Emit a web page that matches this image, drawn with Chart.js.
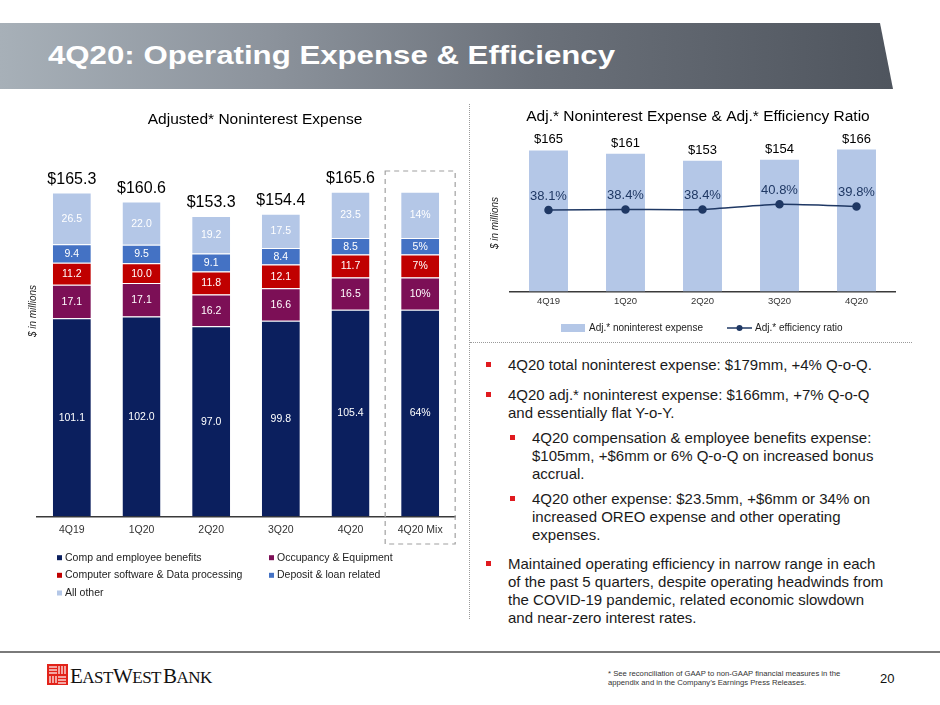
<!DOCTYPE html>
<html>
<head>
<meta charset="utf-8">
<script src="https://cdn.jsdelivr.net/npm/chart.js@4.4.1/dist/chart.umd.min.js"></script>
<style>
body { margin: 0; background: #fff; }
#slide { position: relative; width: 940px; height: 705px; overflow: hidden; font-family: "Liberation Sans", Arial, sans-serif; color: #1a1a1a; }
#titlebar { position: absolute; left: 0; top: 23px; width: 893px; height: 66px;
  background: linear-gradient(to right, #a7b0b8 0%, #8c939c 30%, #6b717a 60%, #4f555e 100%);
  clip-path: polygon(0 0, 880px 0, 893px 66px, 0 66px); }
#title { position: absolute; left: 48px; top: 42px; font-size: 26px; line-height: 26px; font-weight: bold; color: #fff;
  white-space: nowrap; transform: scaleX(1.2); transform-origin: 0 0; }
.cv { position: absolute; }
#sepV { position: absolute; left: 469px; top: 104px; height: 515px; border-left: 1.5px dotted #9a9a9a; }
#sepH { position: absolute; left: 470px; top: 342px; width: 442px; border-top: 1.5px dotted #9a9a9a; }
.bl { position: absolute; font-size: 15px; line-height: 18px; white-space: nowrap; }
.bl i { position: absolute; left: -22px; top: 6px; width: 4.5px; height: 4.5px; background: #e01a1f; }
#rule { position: absolute; left: 0; top: 651px; width: 940px; height: 2px; background: #7a7a7a; }
#logo { position: absolute; left: 47px; top: 664px; }
#bank { position: absolute; left: 70px; top: 666px; font-family: "Liberation Serif", "Times New Roman", serif; font-size: 21px; line-height: 21px; color: #111; white-space: nowrap; letter-spacing: -0.5px; }
#bank span { font-size: 17px; }
#bank b { font-weight: normal; margin-left: 2px; }
#note { position: absolute; left: 608px; top: 669px; font-size: 7.7px; line-height: 9px; color: #333; white-space: nowrap; }
#page { position: absolute; left: 880px; top: 672px; font-size: 13px; line-height: 14px; color: #111; }
</style>
</head>
<body>
<div id="slide">
  <div id="titlebar"></div>
  <div id="title">4Q20: Operating Expense &amp; Efficiency</div>

  <canvas id="leftChart" class="cv" width="470" height="520" style="left:0;top:95px"></canvas>
  <canvas id="rightChart" class="cv" width="460" height="250" style="left:470px;top:95px"></canvas>

  <div id="sepV"></div>
  <div id="sepH"></div>

  <div class="bl" style="left:508px;top:356px"><i></i>4Q20 total noninterest expense: $179mm, +4% Q-o-Q.</div>
  <div class="bl" style="left:508px;top:386px"><i></i>4Q20 adj.* noninterest expense: $166mm, +7% Q-o-Q<br>and essentially flat Y-o-Y.</div>
  <div class="bl" style="left:532px;top:429px"><i></i>4Q20 compensation &amp; employee benefits expense:<br>$105mm, +$6mm or 6% Q-o-Q on increased bonus<br>accrual.</div>
  <div class="bl" style="left:532px;top:490px"><i></i>4Q20 other expense: $23.5mm, +$6mm or 34% on<br>increased OREO expense and other operating<br>expenses.</div>
  <div class="bl" style="left:508px;top:555px"><i></i>Maintained operating efficiency in narrow range in each<br>of the past 5 quarters, despite operating headwinds from<br>the COVID-19 pandemic, related economic slowdown<br>and near-zero interest rates.</div>

  <div id="rule"></div>
  <svg id="logo" width="21" height="21" viewBox="0 0 21 21">
    <rect width="21" height="21" fill="#e2231a"/>
    <g stroke="#fff" stroke-width="1.2">
      <line x1="2" y1="3" x2="10" y2="3"/><line x1="2" y1="6" x2="10" y2="6"/><line x1="2" y1="9" x2="10" y2="9"/>
      <line x1="12" y1="2" x2="12" y2="10"/><line x1="15" y1="2" x2="15" y2="10"/><line x1="18" y1="2" x2="18" y2="10"/>
      <line x1="3" y1="12" x2="3" y2="19"/><line x1="6" y1="12" x2="6" y2="19"/><line x1="9" y1="12" x2="9" y2="19"/>
      <line x1="11" y1="13" x2="19" y2="13"/><line x1="11" y1="16" x2="19" y2="16"/><line x1="11" y1="19" x2="19" y2="19"/>
    </g>
  </svg>
  <div id="bank">E<span>AST</span>W<span>EST</span><b>B</b><span>ANK</span></div>
  <div id="note">* See reconciliation of GAAP to non-GAAP financial measures in the<br>appendix and in the Company’s Earnings Press Releases.</div>
  <div id="page">20</div>
</div>

<script>
// Datos del grafico izquierdo (millones de dolares)
const quarters = ['4Q19', '1Q20', '2Q20', '3Q20', '4Q20', '4Q20 Mix'];
const compBenefits = [101.1, 102.0, 97.0, 99.8, 105.4, 105.4];
const occupancy = [17.1, 17.1, 16.2, 16.6, 16.5, 16.5];
const softwareData = [11.2, 10.0, 11.8, 12.1, 11.7, 11.7];
const depositLoan = [9.4, 9.5, 9.1, 8.4, 8.5, 8.5];
const allOther = [26.5, 22.0, 19.2, 17.5, 23.5, 23.5];
const quarterTotals = ['$165.3', '$160.6', '$153.3', '$154.4', '$165.6', ''];
const mixShare = ['64%', '10%', '7%', '5%', '14%'];
const mixIndex = 5;

// Datos del grafico derecho
const effQuarters = ['4Q19', '1Q20', '2Q20', '3Q20', '4Q20'];
const adjExpense = [165, 161, 153, 154, 166];
const effRatio = [38.1, 38.4, 38.4, 40.8, 39.8];

const FONT = '"Liberation Sans", Arial, sans-serif';
Chart.defaults.font.family = FONT;
Chart.defaults.animation = false;

const NAVY = '#1f3864';

// Etiquetas, titulo y leyenda del grafico izquierdo
const leftExtras = {
  id: 'leftExtras',
  afterDatasetsDraw(chart) {
    const ctx = chart.ctx;
    ctx.save();
    ctx.textAlign = 'center';
    ctx.textBaseline = 'middle';
    ctx.font = '10.5px ' + FONT;
    ctx.fillStyle = '#fff';
    chart.data.datasets.forEach((ds, i) => {
      chart.getDatasetMeta(i).data.forEach((bar, j) => {
        const txt = j === mixIndex ? mixShare[i] : ds.data[j].toFixed(1);
        ctx.fillText(txt, bar.x, (bar.y + bar.base) / 2 + 0.5);
      });
    });

    // totales
    const topBars = chart.getDatasetMeta(chart.data.datasets.length - 1).data;
    ctx.fillStyle = '#000';
    ctx.font = '16px ' + FONT;
    ctx.textBaseline = 'alphabetic';
    topBars.forEach((bar, j) => {
      if (quarterTotals[j]) ctx.fillText(quarterTotals[j], bar.x, bar.y - 8.5);
    });

    // titulo
    ctx.font = '15.5px ' + FONT;
    ctx.textBaseline = 'middle';
    ctx.fillText('Adjusted* Noninterest Expense', 255, 25);

    // eje y
    ctx.save();
    ctx.translate(33, 216);
    ctx.rotate(-Math.PI / 2);
    ctx.font = 'italic 10px ' + FONT;
    ctx.fillStyle = '#222';
    ctx.fillText('$ in millions', 0, 0);
    ctx.restore();

    // caja discontinua del mix
    const xs = chart.scales.x;
    const cx = xs.getPixelForValue(mixIndex);
    ctx.strokeStyle = '#a0a0a0';
    ctx.lineWidth = 1.2;
    ctx.setLineDash([5, 4]);
    ctx.strokeRect(cx - 35, 76, 70, 373);
    ctx.setLineDash([]);

    // leyenda
    const cols = [57, 269];
    const rows = [462.7, 480.3, 498];
    ctx.textAlign = 'left';
    ctx.font = '10.5px ' + FONT;
    chart.data.datasets.forEach((ds, i) => {
      const x = cols[i % 2];
      const y = rows[Math.floor(i / 2)];
      ctx.fillStyle = ds.backgroundColor;
      ctx.fillRect(x, y - 2.5, 5, 5);
      ctx.fillStyle = '#222';
      ctx.fillText(ds.label, x + 8, y);
    });
    ctx.restore();
  }
};

new Chart(document.getElementById('leftChart'), {
  type: 'bar',
  data: {
    labels: quarters,
    datasets: [
      { label: 'Comp and employee benefits', data: compBenefits, backgroundColor: '#0b1f5e' },
      { label: 'Occupancy & Equipment', data: occupancy, backgroundColor: '#7c0f56' },
      { label: 'Computer software & Data processing', data: softwareData, backgroundColor: '#c00000' },
      { label: 'Deposit & loan related', data: depositLoan, backgroundColor: '#4472c4' },
      { label: 'All other', data: allOther, backgroundColor: '#b4c7e7' }
    ].map(d => Object.assign(d, {
      borderColor: '#ffffff',
      borderWidth: { top: 1, bottom: 0, left: 0, right: 0 },
      categoryPercentage: 1,
      barPercentage: 0.545
    }))
  },
  options: {
    responsive: false,
    layout: { padding: { left: 37, right: 15, top: 49, bottom: 72 } },
    plugins: { legend: { display: false }, tooltip: { enabled: false } },
    scales: {
      x: {
        stacked: true,
        grid: { display: false, drawTicks: false },
        border: { color: '#3a3a3a', width: 1.5 },
        ticks: { padding: 7, color: '#333', font: { size: 10.5 } }
      },
      y: { stacked: true, display: false, min: 0, max: 190 }
    }
  },
  plugins: [leftExtras]
});

// Etiquetas, titulo y leyenda del grafico derecho
const rightExtras = {
  id: 'rightExtras',
  afterDatasetsDraw(chart) {
    const ctx = chart.ctx;
    ctx.save();
    ctx.textAlign = 'center';
    ctx.textBaseline = 'alphabetic';

    const barMeta = chart.getDatasetMeta(0).data;
    const lineMeta = chart.getDatasetMeta(1).data;
    ctx.font = '13px ' + FONT;
    ctx.fillStyle = '#000';
    barMeta.forEach((bar, j) => ctx.fillText('$' + adjExpense[j], bar.x, bar.y - 7));
    ctx.fillStyle = NAVY;
    lineMeta.forEach((pt, j) => ctx.fillText(effRatio[j].toFixed(1) + '%', pt.x, pt.y - 10));

    // titulo
    ctx.fillStyle = '#000';
    ctx.font = '15.5px ' + FONT;
    ctx.textBaseline = 'middle';
    ctx.fillText('Adj.* Noninterest Expense & Adj.* Efficiency Ratio', 228, 22);

    // eje y
    ctx.save();
    ctx.translate(25, 128);
    ctx.rotate(-Math.PI / 2);
    ctx.font = 'italic 10px ' + FONT;
    ctx.fillStyle = '#222';
    ctx.fillText('$ in millions', 0, 0);
    ctx.restore();

    // leyenda
    const ds = chart.data.datasets;
    const ly = 233;
    ctx.textAlign = 'left';
    ctx.font = '10px ' + FONT;
    ctx.fillStyle = ds[0].backgroundColor;
    ctx.fillRect(91, ly - 4, 24, 8);
    ctx.fillStyle = '#222';
    ctx.fillText(ds[0].label, 119, ly);
    ctx.strokeStyle = NAVY;
    ctx.lineWidth = 1.5;
    ctx.beginPath();
    ctx.moveTo(257, ly);
    ctx.lineTo(282, ly);
    ctx.stroke();
    ctx.beginPath();
    ctx.arc(269.5, ly, 3, 0, Math.PI * 2);
    ctx.fillStyle = NAVY;
    ctx.fill();
    ctx.fillStyle = '#222';
    ctx.fillText(ds[1].label, 285, ly);
    ctx.restore();
  }
};

new Chart(document.getElementById('rightChart'), {
  data: {
    labels: effQuarters,
    datasets: [
      { type: 'bar', label: 'Adj.* noninterest expense', data: adjExpense, backgroundColor: '#b4c7e7',
        yAxisID: 'y', order: 2, categoryPercentage: 1, barPercentage: 0.506 },
      { type: 'line', label: 'Adj.* efficiency ratio', data: effRatio, borderColor: NAVY, backgroundColor: NAVY,
        borderWidth: 1.5, pointRadius: 3.5, pointBackgroundColor: NAVY, tension: 0.2, yAxisID: 'y2', order: 1 }
    ]
  },
  options: {
    responsive: false,
    layout: { padding: { left: 40, right: 35, top: 34, bottom: 34 } },
    plugins: { legend: { display: false }, tooltip: { enabled: false } },
    scales: {
      x: {
        grid: { display: false, drawTicks: false },
        border: { color: '#3a3a3a', width: 1.5 },
        ticks: { padding: 4, color: '#333', font: { size: 9.5 } }
      },
      y: { display: false, min: 0, max: 190 },
      y2: { display: false, min: 0, max: 76 }
    }
  },
  plugins: [rightExtras]
});
</script>
</body>
</html>
